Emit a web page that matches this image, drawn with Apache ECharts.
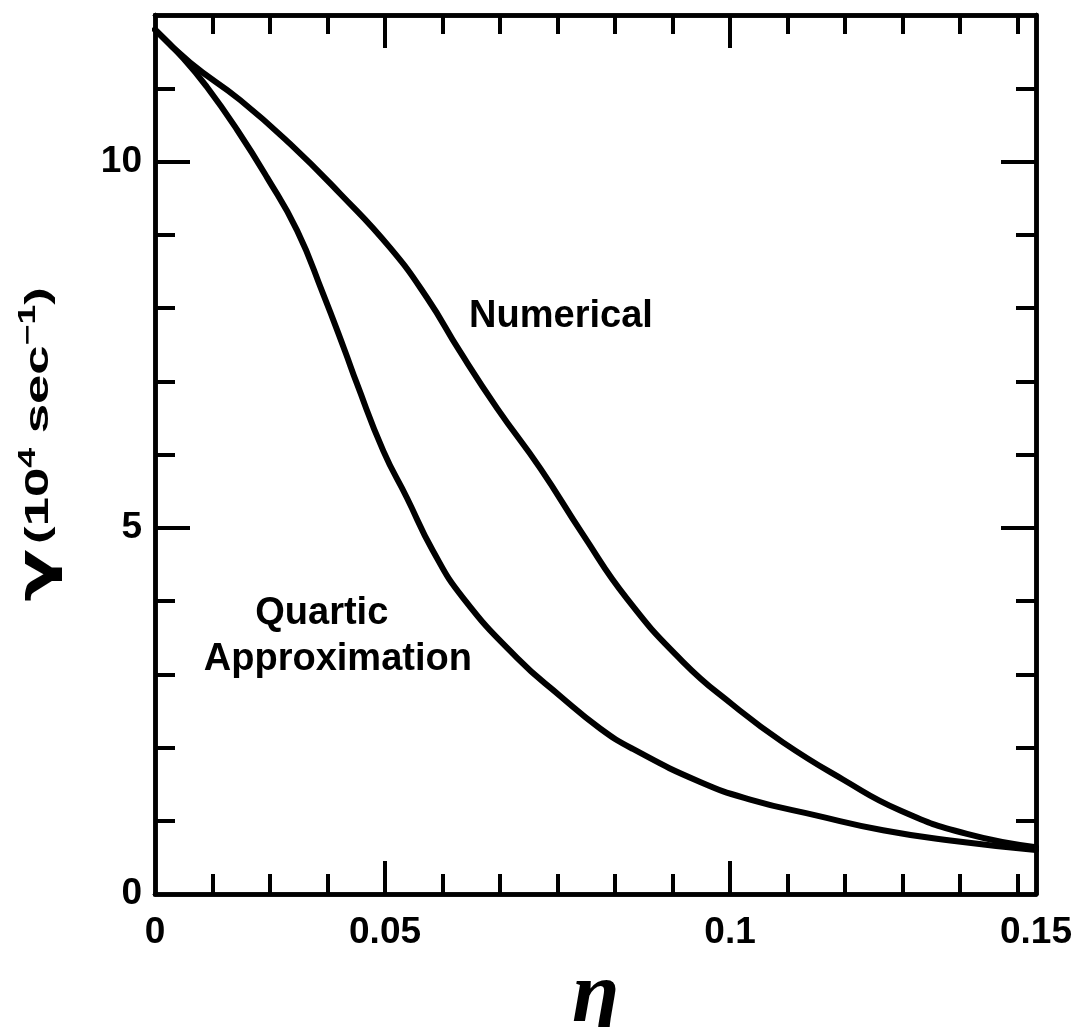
<!DOCTYPE html>
<html>
<head>
<meta charset="utf-8">
<title>Growth rate vs eta</title>
<script src="https://cdn.jsdelivr.net/npm/echarts@6/dist/echarts.min.js"></script>
<style>
html, body { margin: 0; padding: 0; background: #fff; }
#chart { width: 1077px; height: 1027px; }
</style>
</head>
<body>
<div id="chart"></div>
<script>
// eta axis of the original is not evenly labelled: positions below are in
// minor-tick units (label 0.05 sits on tick 4, 0.1 on tick 10, 0.15 on the right edge)
const X_MAX = 15.32
const Y_MAX = 12

const numericalX = [0, 0.61, 1.48, 2.35, 3.22, 4.09, 4.73, 5.30, 5.95, 6.70, 7.44, 8.21, 9.18, 10.05, 10.92, 11.97, 12.96, 14.12, 15.32]
const numericalY = [11.80, 11.35, 10.84, 10.24, 9.56, 8.82, 8.14, 7.41, 6.63, 5.81, 4.91, 4.03, 3.17, 2.58, 2.07, 1.56, 1.14, 0.82, 0.64]

const quarticX = [0, 0.49, 0.90, 1.43, 1.95, 2.47, 2.92, 3.30, 3.51, 3.97, 4.38, 4.83, 5.36, 6.30, 7.05, 7.74, 8.31, 9.48, 10.35, 11.51, 12.66, 13.83, 15.32]
const quarticY = [11.80, 11.41, 11.02, 10.43, 9.78, 9.06, 8.20, 7.42, 6.97, 6.05, 5.41, 4.69, 4.04, 3.22, 2.70, 2.26, 1.98, 1.53, 1.29, 1.07, 0.87, 0.73, 0.60]

const xLabelPos = [0, 4, 10, X_MAX]
const xLabelText = ['0', '0.05', '0.1', '0.15']
const xMinorTicks = [1, 2, 3, 5, 6, 7, 8, 9, 11, 12, 13, 14, 15]
const xMajorTicks = [4, 10]

const yLabelPos = [0, 5, 10]
const yMinorTicks = [1, 2, 3, 4, 6, 7, 8, 9, 11]
const yMajorTicks = [5, 10]

// text anchors, in axis units
const noteText = ['Numerical', 'Quartic', 'Approximation']
const noteAt = [[7.06, 7.89], [2.90, 3.83], [3.18, 3.20]]

const ink = '#000'
const font = 'Liberation Sans, Arial, sans-serif'

function pairs(xs, ys) {
	return xs.map((x, i) => [x, ys[i]])
}

function xLabel(v) {
	for (let i = 0; i < xLabelPos.length; i++) {
		if (Math.abs(xLabelPos[i] - v) < 1e-6) return xLabelText[i]
	}
	return ''
}

function makeAxis(dim, pos, ticks, len, extra) {
	let axis = {
		type: 'value',
		position: pos,
		min: 0,
		max: dim === 'x' ? X_MAX : Y_MAX,
		axisLine: { show: true, onZero: false, lineStyle: { color: ink, width: 4.5 } },
		axisTick: { show: true, inside: true, length: len, customValues: ticks, lineStyle: { color: ink, width: 4 } },
		axisLabel: { show: false },
		splitLine: { show: false }
	}
	return Object.assign(axis, extra || {})
}

function curve(name, xs, ys) {
	return {
		name: name,
		type: 'line',
		data: pairs(xs, ys),
		smooth: 0.5,
		showSymbol: false,
		lineStyle: { color: ink, width: 6, cap: 'round', join: 'round' }
	}
}

const chart = echarts.init(document.getElementById('chart'))

chart.setOption({
	backgroundColor: '#fff',
	animation: false,
	grid: { left: 155, right: 41, top: 15, bottom: 133, containLabel: false, outerBoundsMode: 'none' },
	xAxis: [
		makeAxis('x', 'bottom', xMinorTicks, 20, {
			axisLabel: {
				show: true, customValues: xLabelPos, formatter: xLabel, margin: 20,
				color: ink, fontSize: 37, fontWeight: 'bold', fontFamily: font
			},
			name: 'η',
			nameLocation: 'middle',
			nameGap: 37,
			nameTextStyle: { color: ink, fontSize: 86, fontStyle: 'italic', fontWeight: 'bold', fontFamily: 'Liberation Serif, serif' }
		}),
		makeAxis('x', 'bottom', xMajorTicks, 33),
		makeAxis('x', 'top', xMinorTicks, 19),
		makeAxis('x', 'top', xMajorTicks, 33)
	],
	yAxis: [
		makeAxis('y', 'left', yMinorTicks, 20, {
			axisLabel: {
				show: true, customValues: yLabelPos, margin: 13,
				color: ink, fontSize: 37, fontWeight: 'bold', fontFamily: font
			}
		}),
		makeAxis('y', 'left', yMajorTicks, 35),
		makeAxis('y', 'right', yMinorTicks, 20),
		makeAxis('y', 'right', yMajorTicks, 35)
	],
	series: [
		curve('Numerical', numericalX, numericalY),
		curve('Quartic Approximation', quarticX, quarticY)
	]
})

// curve captions, placed through the axes
let texts = noteText.map((t, i) => {
	const p = chart.convertToPixel({ xAxisIndex: 0, yAxisIndex: 0 }, noteAt[i])
	return {
		type: 'text',
		x: p[0],
		y: p[1],
		style: {
			text: t, fill: ink, align: 'center', verticalAlign: 'middle',
			fontSize: 38, fontWeight: 'bold', fontFamily: font
		}
	}
})

// y title is printed stretched along its length in the original
const mid = chart.convertToPixel({ yAxisIndex: 0 }, Y_MAX / 2)
texts.push({
	type: 'text',
	x: 39,
	y: mid - 10,
	rotation: Math.PI / 2,
	scaleX: 1.55,
	style: {
		text: '{g|γ} {t|(10}{s|4}{t| sec}{s|−1}{t|)}',
		align: 'center',
		verticalAlign: 'middle',
		fill: ink,
		rich: {
			g: { fontSize: 50, fontFamily: 'DejaVu Sans, sans-serif', fontWeight: 'bold', fill: ink, lineHeight: 44 },
			t: { fontSize: 34, fontFamily: font, fontWeight: 'bold', fill: ink, lineHeight: 44 },
			s: { fontSize: 23, fontFamily: font, fontWeight: 'bold', fill: ink, lineHeight: 44, verticalAlign: 'top' }
		}
	}
})

chart.setOption({ graphic: texts })
</script>
</body>
</html>
